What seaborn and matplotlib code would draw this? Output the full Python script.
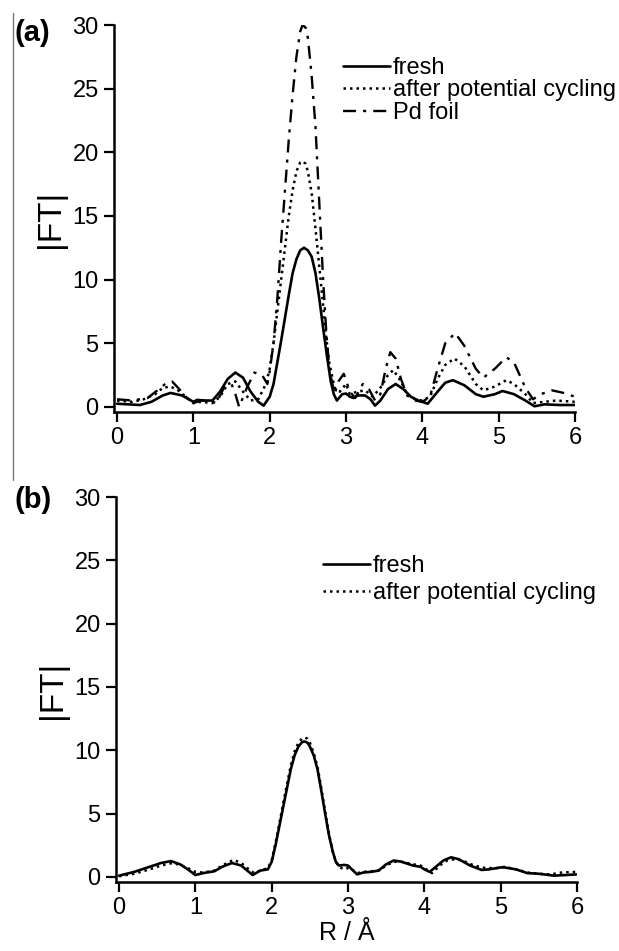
import numpy as np
import pandas as pd
import matplotlib
matplotlib.use("Agg")
import matplotlib.pyplot as plt
from matplotlib.lines import Line2D
import seaborn as sns

sns.set_theme(style="ticks")
plt.rcParams['font.family'] = ['Liberation Sans', 'DejaVu Sans']
plt.rcParams['text.color'] = 'black'
plt.rcParams['axes.labelcolor'] = 'black'
plt.rcParams['xtick.color'] = 'black'
plt.rcParams['ytick.color'] = 'black'

# ---------------- data ----------------
# panel (a)
a_fresh_r = [0.0, 0.15, 0.3, 0.45, 0.6, 0.7, 0.85, 1.0, 1.05, 1.15, 1.25, 1.35, 1.45, 1.55, 1.65, 1.75, 1.85, 1.92,
             2.0, 2.05, 2.1, 2.15, 2.2, 2.25, 2.3, 2.35, 2.4, 2.45, 2.5, 2.55, 2.6, 2.65, 2.7, 2.75, 2.8, 2.84, 2.88,
             2.95, 3.0, 3.05, 3.1, 3.15, 3.25, 3.32, 3.38,
             3.45, 3.55, 3.65, 3.75, 3.85, 3.95, 4.07, 4.2, 4.3, 4.4, 4.55, 4.7, 4.8, 4.95, 5.05, 5.2, 5.35, 5.47,
             5.6, 5.8, 6.0]
a_fresh_ft = [0.25, 0.2, 0.15, 0.4, 0.9, 1.1, 0.9, 0.4, 0.55, 0.5, 0.5, 1.2, 2.2, 2.7, 2.3, 1.2, 0.4, 0.1,
              0.8, 1.8, 3.5, 5.2, 7.0, 8.8, 10.5, 11.6, 12.3, 12.5, 12.3, 11.8, 10.5, 8.5, 6.2, 4.0, 2.0, 1.0, 0.5,
              1.0, 1.05, 0.8, 0.7, 0.9, 0.9, 0.6, 0.1,
              0.5, 1.4, 1.8, 1.4, 0.8, 0.5, 0.25, 1.2, 1.9, 2.1, 1.7, 1.0, 0.8, 1.0, 1.25, 1.0, 0.5, 0.05,
              0.2, 0.15, 0.15]

a_cyc_r = [0.0, 0.2, 0.35, 0.5, 0.6, 0.7, 0.8, 0.9, 1.0, 1.1, 1.25, 1.35, 1.45, 1.55, 1.65, 1.75, 1.85, 1.95,
           2.0, 2.05, 2.1, 2.15, 2.2, 2.25, 2.3, 2.35, 2.4, 2.43, 2.47, 2.5, 2.55, 2.6, 2.65, 2.7, 2.74, 2.78,
           2.85, 2.92, 3.0, 3.05, 3.15, 3.25, 3.35, 3.45, 3.55,
           3.62, 3.72, 3.8, 3.9, 4.0, 4.1, 4.2, 4.3, 4.42, 4.55, 4.7, 4.8, 4.95, 5.1, 5.2, 5.35, 5.45, 5.6, 5.75, 6.0]
a_cyc_ft = [0.5, 0.4, 0.6, 1.0, 1.5, 1.6, 1.3, 0.8, 0.3, 0.4, 0.3, 0.8, 1.8, 2.0, 1.2, 0.5, 0.6, 1.8,
            3.0, 5.0, 7.5, 10.0, 12.5, 15.0, 17.0, 18.5, 19.2, 19.3, 19.1, 18.5, 16.8, 14.0, 11.0, 8.0, 5.5, 3.5,
            1.5, 1.2, 1.8, 1.0, 1.2, 1.3, 0.8, 1.5, 2.5,
            2.9, 2.0, 1.0, 0.6, 0.5, 0.8, 2.2, 3.3, 3.8, 3.2, 1.8, 1.3, 1.6, 2.1, 1.8, 1.0, 0.3, 0.4, 0.5, 0.4]

a_foil_r = [0.0, 0.2, 0.4, 0.55, 0.65, 0.72, 0.8, 0.9, 1.0, 1.1, 1.2, 1.3, 1.4, 1.5, 1.55, 1.6, 1.7, 1.8, 1.9,
            1.97, 2.0, 2.05, 2.1, 2.15, 2.2, 2.25, 2.3, 2.35, 2.4, 2.43, 2.47, 2.5, 2.55, 2.6, 2.65, 2.7, 2.74,
            2.78, 2.85, 2.9, 2.97, 3.05, 3.12, 3.22, 3.3, 3.38,
            3.45, 3.52, 3.58, 3.65, 3.72, 3.8, 3.9, 4.0, 4.1, 4.2, 4.3, 4.43, 4.55, 4.7, 4.8, 4.95, 5.1, 5.2, 5.35,
            5.45, 5.55, 5.7, 5.85, 6.0]
a_foil_ft = [0.6, 0.5, 0.7, 1.4, 1.9, 2.0, 1.5, 0.8, 0.3, 0.5, 0.5, 0.3, 1.5, 1.8, 1.0, 0.0, 1.5, 2.7, 2.5,
             1.8, 2.8, 5.0, 8.5, 13.0, 17.0, 21.0, 24.5, 27.5, 29.5, 30.0, 29.8, 29.0, 26.0, 22.0, 16.0, 10.0, 6.0,
             3.0, 1.0, 2.0, 2.6, 1.2, 0.7, 1.8, 1.4, 0.5,
             1.0, 3.0, 4.3, 3.8, 2.2, 0.9, 0.5, 0.4, 0.8, 3.0, 5.0, 5.8, 4.8, 3.0, 2.3, 3.0, 3.9, 3.5, 1.5,
             0.6, 1.0, 1.3, 1.1, 0.8]

# panel (b)
b_fresh_r = [0.0, 0.2, 0.4, 0.55, 0.68, 0.8, 0.9, 1.0, 1.1, 1.25, 1.35, 1.48, 1.6, 1.7, 1.75, 1.85, 1.95,
             2.0, 2.05, 2.1, 2.15, 2.2, 2.25, 2.3, 2.35, 2.4, 2.43, 2.47, 2.5, 2.55, 2.6, 2.65, 2.7, 2.75, 2.8,
             2.84, 2.88, 2.95, 3.0, 3.05, 3.12, 3.2, 3.3, 3.4, 3.5, 3.6, 3.7,
             3.85, 3.95, 4.0, 4.07, 4.15, 4.25, 4.35, 4.45, 4.6, 4.75, 4.85, 5.0, 5.05, 5.2, 5.35, 5.5, 5.7, 5.85, 6.0]
b_fresh_ft = [0.1, 0.4, 0.8, 1.1, 1.25, 1.0, 0.6, 0.15, 0.3, 0.45, 0.8, 1.1, 0.9, 0.4, 0.15, 0.5, 0.6,
              1.2, 2.5, 4.0, 5.5, 7.0, 8.5, 9.6, 10.3, 10.65, 10.7, 10.6, 10.3, 9.6, 8.5, 6.8, 5.0, 3.3, 2.0,
              1.2, 0.9, 0.95, 0.9, 0.6, 0.2, 0.35, 0.4, 0.5, 1.0, 1.3, 1.2,
              0.9, 0.8, 0.6, 0.4, 0.8, 1.3, 1.55, 1.4, 0.9, 0.55, 0.6, 0.75, 0.75, 0.6, 0.3, 0.25, 0.1, 0.15, 0.2]

b_cyc_r = [0.0, 0.2, 0.4, 0.55, 0.7, 0.8, 0.9, 1.0, 1.1, 1.25, 1.35, 1.5, 1.6, 1.7, 1.77, 1.85, 1.95,
           2.0, 2.05, 2.1, 2.15, 2.2, 2.25, 2.3, 2.35, 2.4, 2.44, 2.47, 2.5, 2.55, 2.6, 2.65, 2.7, 2.75, 2.8,
           2.84, 2.88, 2.95, 3.0, 3.05, 3.12, 3.2, 3.3, 3.4, 3.5, 3.6, 3.7,
           3.85, 3.95, 4.05, 4.1, 4.2, 4.3, 4.4, 4.5, 4.65, 4.8, 4.95, 5.05, 5.2, 5.35, 5.5, 5.65, 5.8, 6.0]
b_cyc_ft = [0.05, 0.25, 0.6, 0.9, 1.1, 0.95, 0.7, 0.4, 0.35, 0.5, 0.9, 1.35, 1.1, 0.6, 0.3, 0.5, 0.7,
            1.3, 2.7, 4.2, 5.8, 7.3, 8.8, 9.9, 10.6, 10.95, 11.0, 10.9, 10.6, 9.8, 8.7, 7.0, 5.2, 3.4, 2.0,
            1.2, 0.8, 0.6, 0.7, 0.6, 0.3, 0.4, 0.45, 0.5, 0.9, 1.2, 1.2,
            1.0, 0.9, 0.5, 0.3, 0.9, 1.3, 1.4, 1.3, 0.9, 0.7, 0.7, 0.8, 0.6, 0.35, 0.25, 0.2, 0.35, 0.4]

labels_a = ["fresh", "after potential cycling", "Pd foil"]
labels_b = ["fresh", "after potential cycling"]
x_ticks = [0, 1, 2, 3, 4, 5, 6]
y_ticks = [0, 5, 10, 15, 20, 25, 30]


def long_frame(pairs, labels):
    frames = []
    for (r, ft), lab in zip(pairs, labels):
        frames.append(pd.DataFrame({"R": r, "FT": ft, "series": lab}))
    return pd.concat(frames, ignore_index=True)


df_a = long_frame([(a_fresh_r, a_fresh_ft), (a_cyc_r, a_cyc_ft), (a_foil_r, a_foil_ft)], labels_a)
df_b = long_frame([(b_fresh_r, b_fresh_ft), (b_cyc_r, b_cyc_ft)], labels_b)

dash_map = {"fresh": "", "after potential cycling": (1.0, 1.6), "Pd foil": (5.5, 3.0, 1.3, 3.0)}
width_map = {"fresh": 1.9, "after potential cycling": 1.8, "Pd foil": 1.7}

fig = plt.figure(figsize=(6.19, 9.51), dpi=100)
ax_a = fig.add_axes([114 / 619, 1 - 412 / 951, 461 / 619, 387 / 951])
ax_b = fig.add_axes([116 / 619, 1 - 882 / 951, 461 / 619, 385 / 951])


def draw(ax, df, labels, leg_anchor, spacing):
    sns.lineplot(data=df, x="R", y="FT", style="series", style_order=labels,
                 dashes={k: dash_map[k] for k in labels}, color="black", ax=ax,
                 legend=False, estimator=None, sort=False)
    for line, lab in zip(ax.get_lines(), labels):
        line.set_linewidth(width_map[lab])
        line.set_solid_joinstyle("round")
    ax.set_xlim(-0.04, 6.0)
    ax.set_ylim(-0.4, 30.0)
    ax.set_xticks(x_ticks)
    ax.set_yticks(y_ticks)
    ax.tick_params(axis="both", direction="out", length=7, width=1.6, labelsize=17,
                   colors="black")
    ax.tick_params(axis="x", pad=4)
    ax.tick_params(axis="y", pad=4)
    for s in ["top", "right"]:
        ax.spines[s].set_visible(False)
    for s in ["left", "bottom"]:
        ax.spines[s].set_linewidth(1.8)
        ax.spines[s].set_color("black")
    ax.set_ylabel("|FT|", fontsize=24, color="black")
    ax.yaxis.set_label_coords(-0.105, 0.5)
    ax.set_xlabel("")
    handles = [Line2D([], [], color="black", linewidth=width_map[k],
                      linestyle=(0, dash_map[k]) if dash_map[k] else "-") for k in labels]
    ax.legend(handles, labels, loc="upper left", bbox_to_anchor=leg_anchor,
              bbox_transform=fig.transFigure, frameon=False, fontsize=17,
              handlelength=2.0, handletextpad=0.1, labelspacing=spacing,
              borderpad=0, borderaxespad=0)


draw(ax_a, df_a, labels_a, (343 / 619, 1 - 57 / 951), 0.02)
draw(ax_b, df_b, labels_b, (323 / 619, 1 - 555 / 951), 0.22)

ax_b.set_xlabel("R / Å", fontsize=18, color="black")
ax_b.xaxis.set_label_coords(0.5, -0.1)

fig.text(14 / 619, 1 - 33 / 951, "(a)", fontsize=21, fontweight="bold", va="center", ha="left")
fig.text(14 / 619, 1 - 500 / 951, "(b)", fontsize=21, fontweight="bold", va="center", ha="left")
fig.add_artist(Line2D([13 / 619, 13 / 619], [1 - 13 / 951, 1 - 480 / 951],
                      transform=fig.transFigure, color="#777777", linewidth=1.0))

fig.savefig("out.png", dpi=100)
